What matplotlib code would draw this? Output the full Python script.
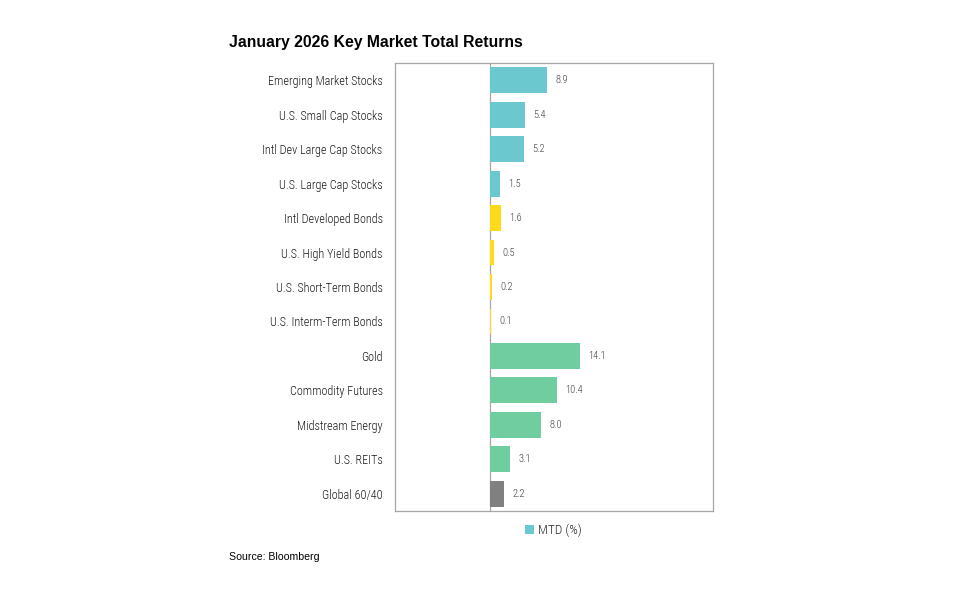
import matplotlib.pyplot as plt
from matplotlib.patches import Patch

categories = [
    'Emerging Market Stocks', 'U.S. Small Cap Stocks', 'Intl Dev Large Cap Stocks',
    'U.S. Large Cap Stocks', 'Intl Developed Bonds', 'U.S. High Yield Bonds',
    'U.S. Short-Term Bonds', 'U.S. Interm-Term Bonds', 'Gold', 'Commodity Futures',
    'Midstream Energy', 'U.S. REITs', 'Global 60/40',
]
mtd = [8.9, 5.4, 5.2, 1.5, 1.6, 0.5, 0.2, 0.1, 14.1, 10.4, 8.0, 3.1, 2.2]
groups = ['stock'] * 4 + ['bond'] * 4 + ['real'] * 4 + ['blend']

group_colors = {
    'stock': '#6BC8CF',
    'bond': '#FFD91A',
    'real': '#6FCD9F',
    'blend': '#808080',
}

narrow = ['Roboto Condensed', 'DejaVu Sans']

fig = plt.figure(figsize=(9.6, 5.95), dpi=100)
ax = fig.add_axes([0.4115, 0.1412, 0.3313, 0.7529])

ypos = list(range(len(categories)))
colors = [group_colors[g] for g in groups]
ax.axvline(0, color='#A6A6A6', linewidth=0.9, zorder=2)
ax.barh(ypos, mtd, height=0.75, color=colors, zorder=3)

# value labels just past the bar ends
for y, v in zip(ypos, mtd):
    ax.annotate(f'{v:.1f}', xy=(v, y), xytext=(6, 0), textcoords='offset points',
                va='center', ha='left', fontsize=7.5, color='#404040',
                family=narrow, fontweight='light')

ax.set_xlim(-15, 35)
ax.set_ylim(len(categories) - 0.5, -0.5)

ax.set_xticks([])
ax.set_yticks(ypos)
ax.set_yticklabels(categories, family=narrow, fontsize=8.7, color='#1a1a1a',
                   fontweight='light')
ax.tick_params(axis='y', length=0, pad=9)
for s in ax.spines.values():
    s.set_color('#A6A6A6')
    s.set_linewidth(0.9)

fig.text(0.2385, 0.929, 'January 2026 Key Market Total Returns',
         fontsize=11.35, fontweight='bold', family='Liberation Sans',
         va='center', ha='left', color='#000000')

handles = [Patch(facecolor=group_colors['stock'], edgecolor='none', label='MTD (%)')]
leg = fig.legend(handles=handles, loc='center', bbox_to_anchor=(0.576, 0.108),
                 frameon=False, handlelength=0.7, handleheight=0.7,
                 handletextpad=0.3,
                 prop={'family': narrow, 'size': 9.5, 'weight': 'light'})
for t in leg.get_texts():
    t.set_color('#262626')

fig.text(0.2385, 0.064, 'Source: Bloomberg', fontsize=7.6,
         family='Liberation Sans', va='center', ha='left', color='#000000')

fig.savefig('out.png', dpi=100)
